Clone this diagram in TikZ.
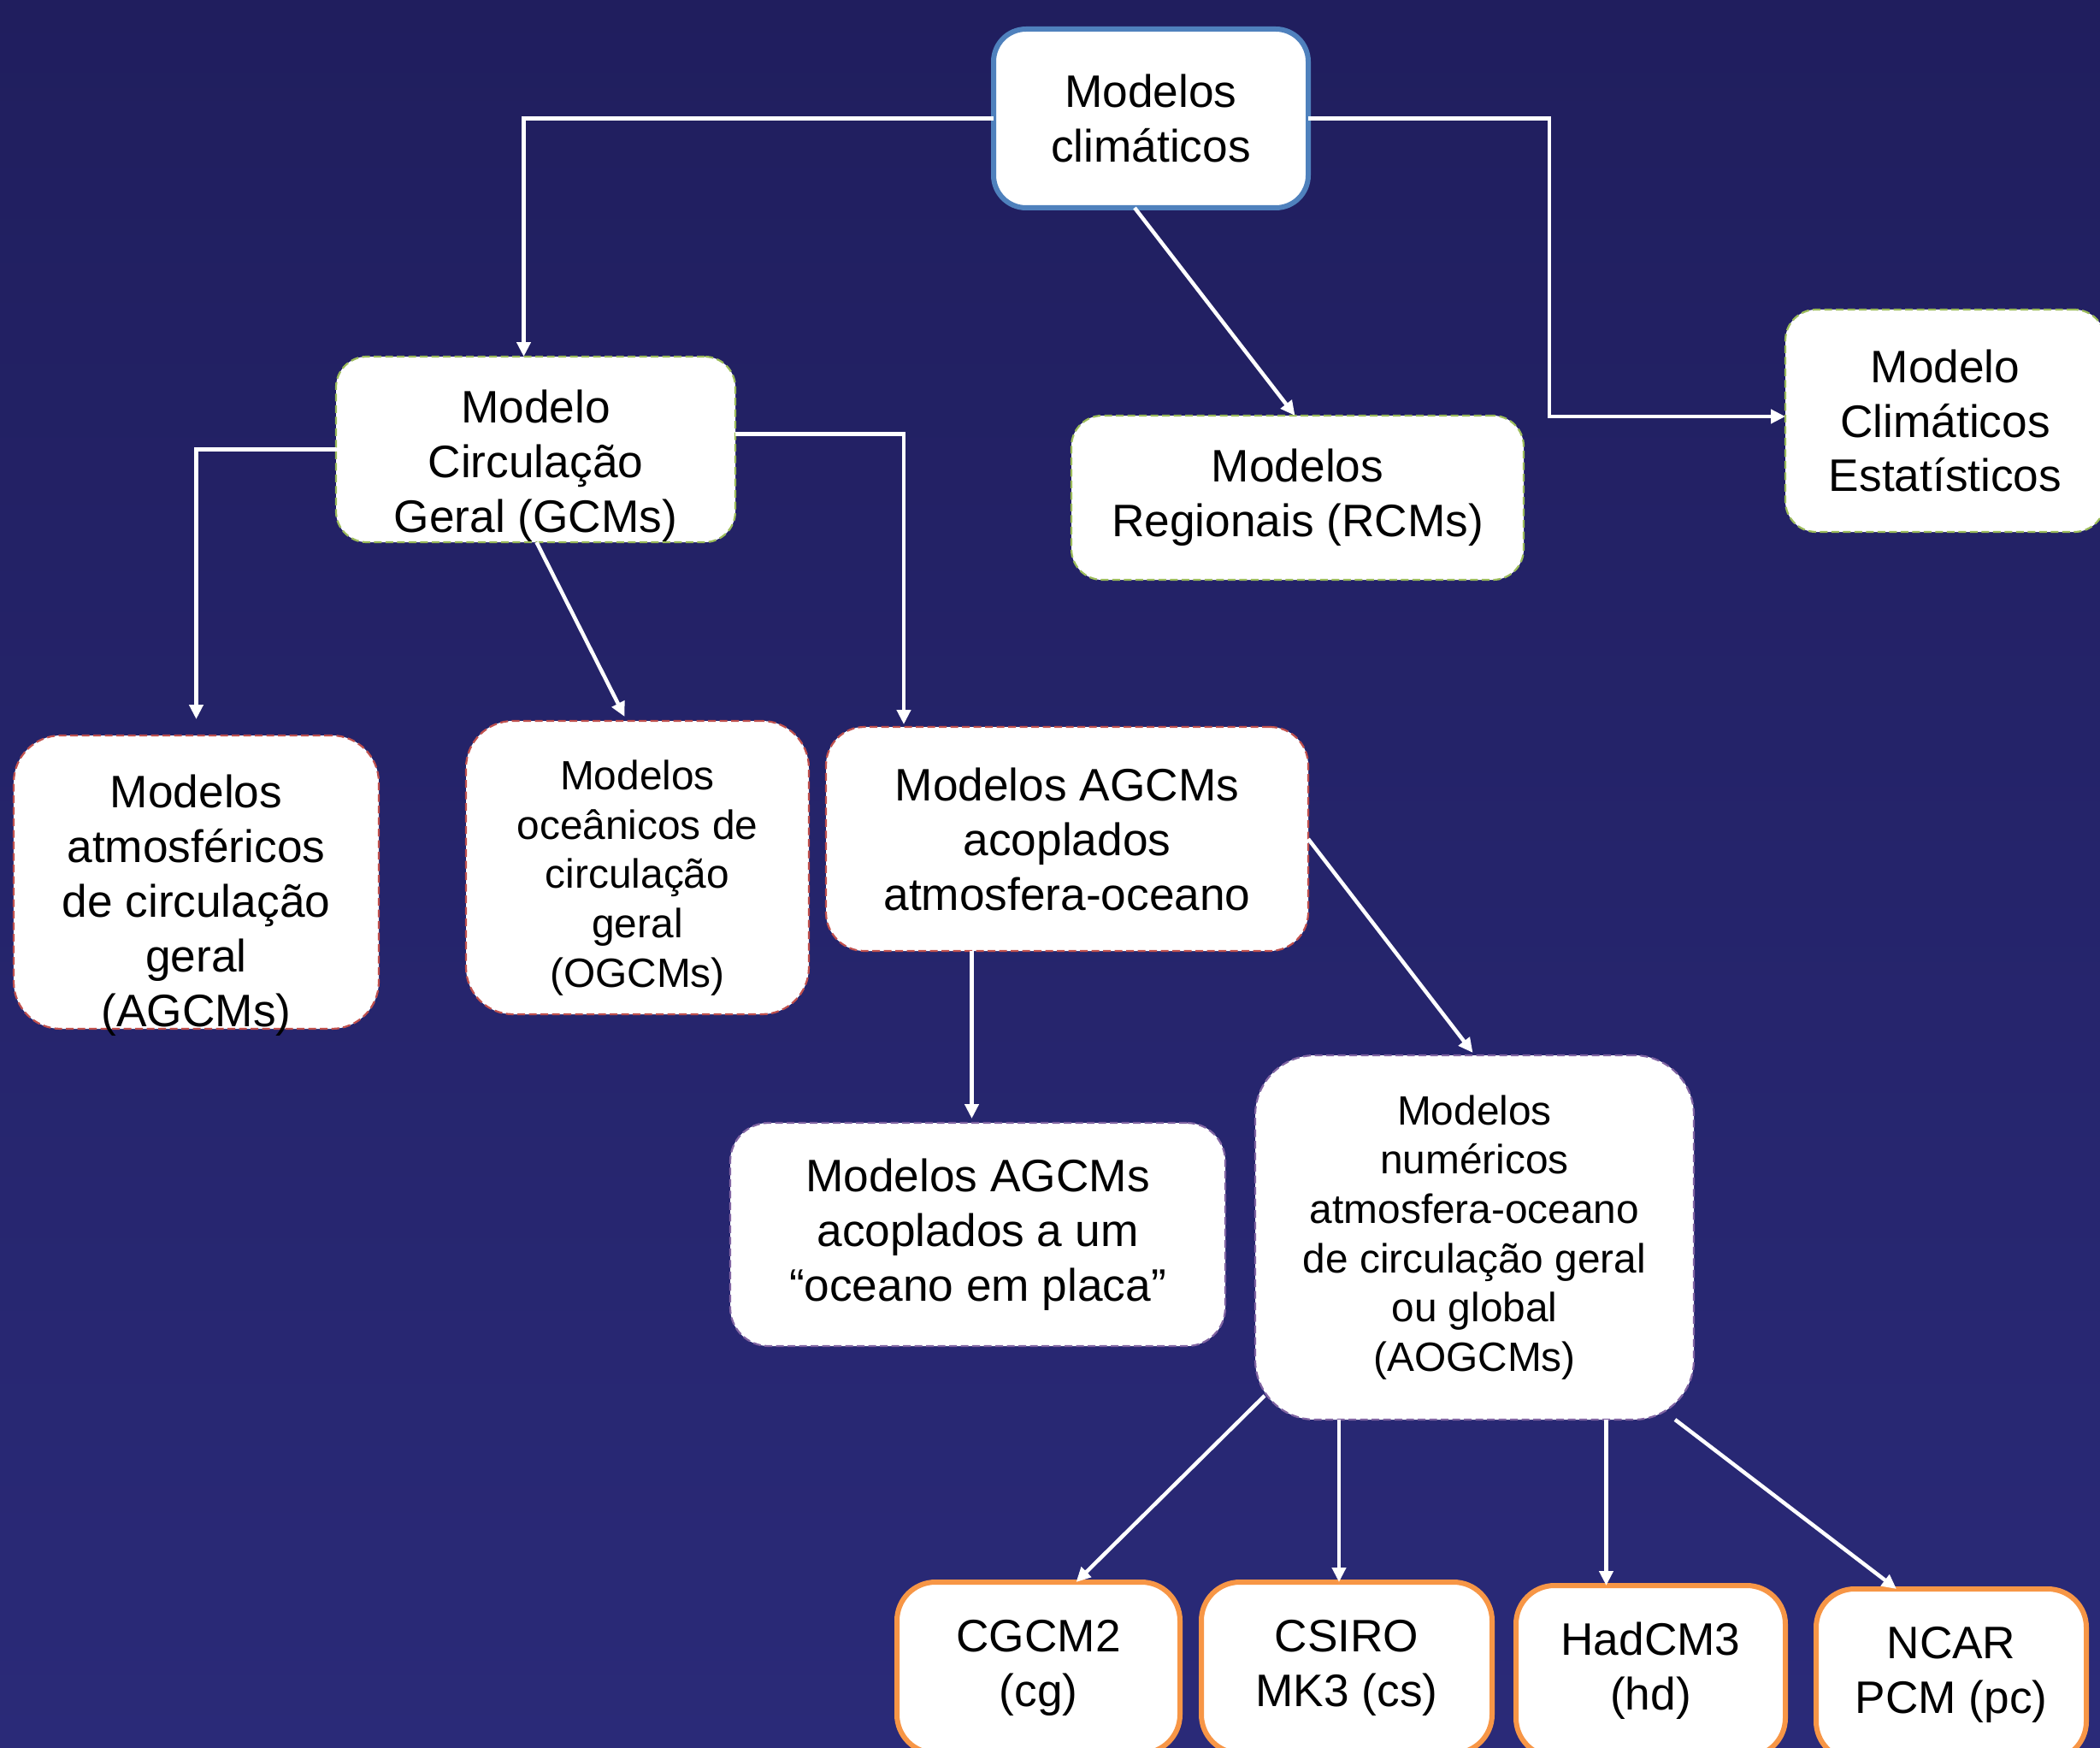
\documentclass[tikz,border=0pt]{standalone}
\usepackage{fontspec}
\setmainfont{Liberation Sans}
\usetikzlibrary{arrows.meta}

\definecolor{bgtop}{RGB}{32,30,94}
\definecolor{bgbot}{RGB}{42,42,120}
\definecolor{boxblue}{RGB}{79,129,189}
\definecolor{boxgreen}{RGB}{155,187,89}
\definecolor{boxred}{RGB}{192,80,77}
\definecolor{boxpurple}{RGB}{128,100,162}
\definecolor{boxorange}{RGB}{247,150,70}

\begin{document}
\begin{tikzpicture}[
	bigtext/.style={font=\fontsize{15.15}{18.2}\selectfont},
	smalltext/.style={font=\fontsize{13.6}{16.4}\selectfont},
	modelbox/.style={rectangle,fill=white,text=black,align=center,inner sep=0,outer sep=0,bigtext},
	boxlabel/.style={text=black,align=center,inner sep=0,bigtext},
	topbox/.style={modelbox,draw=boxblue,line width=0.06cm,rounded corners=0.38cm},
	greenbox/.style={modelbox,draw=boxgreen,line width=0.022cm,dash pattern=on 0.09cm off 0.045cm,rounded corners=0.36cm},
	redbox/.style={modelbox,draw=boxred,line width=0.022cm,dash pattern=on 0.09cm off 0.045cm,rounded corners=0.55cm},
	purplebox/.style={modelbox,draw=boxpurple,line width=0.022cm,dash pattern=on 0.09cm off 0.045cm,rounded corners=0.6cm},
	orangebox/.style={modelbox,draw=boxorange,line width=0.06cm,rounded corners=0.45cm},
	arr/.style={draw=white,line width=0.045cm,-{Triangle[length=0.17cm,width=0.16cm]}}
]
	\clip (0,0) rectangle (24.56,-20.44);
	\shade[top color=bgtop,bottom color=bgbot] (0,0) rectangle (24.56,-20.44);

	% nivel 1
	\node[topbox,minimum width=3.68cm,minimum height=2.09cm] (top) at (13.46,-1.385) {Modelos\\climáticos};

	% nivel 2
	\node[greenbox,minimum width=4.67cm,minimum height=2.17cm,
		label={[boxlabel,yshift=-0.19cm]center:Modelo\\Circulação\\Geral (GCMs)}] (gcm) at (6.265,-5.255) {};
	\node[greenbox,minimum width=5.29cm,minimum height=1.92cm] (rcm) at (15.175,-5.82) {Modelos\\Regionais (RCMs)};
	\node[greenbox,minimum width=3.74cm,minimum height=2.60cm] (est) at (22.75,-4.92) {Modelo\\Climáticos\\Estatísticos};

	% nivel 3
	\node[redbox,minimum width=4.27cm,minimum height=3.43cm,
		label={[boxlabel,yshift=-0.27cm]center:Modelos\\atmosféricos\\de circulação\\geral\\(AGCMs)}] (agcm) at (2.295,-10.315) {};
	\node[redbox,minimum width=4.01cm,minimum height=3.43cm,
		label={[boxlabel,smalltext,yshift=-0.12cm]center:Modelos\\oceânicos de\\circulação\\geral\\(OGCMs)}] (ogcm) at (7.455,-10.145) {};
	\node[redbox,minimum width=5.64cm,minimum height=2.62cm,rounded corners=0.45cm] (acop) at (12.48,-9.81) {Modelos AGCMs\\acoplados\\atmosfera-oceano};

	% nivel 4
	\node[purplebox,minimum width=5.79cm,minimum height=2.61cm,rounded corners=0.45cm] (placa) at (11.435,-14.435) {Modelos AGCMs\\acoplados a um\\“oceano em placa”};
	\node[purplebox,smalltext,minimum width=5.13cm,minimum height=4.26cm,rounded corners=0.7cm] (aogcm) at (17.245,-14.47) {Modelos\\numéricos\\atmosfera-oceano\\de circulação geral\\ou global\\(AOGCMs)};

	% nivel 5
	\node[orangebox,minimum width=3.31cm,minimum height=2.0cm] (cgcm) at (12.145,-19.5) {CGCM2\\(cg)};
	\node[orangebox,minimum width=3.40cm,minimum height=2.0cm] (csiro) at (15.75,-19.5) {CSIRO\\MK3 (cs)};
	\node[orangebox,minimum width=3.15cm,minimum height=2.0cm] (had) at (19.305,-19.54) {HadCM3\\(hd)};
	\node[orangebox,minimum width=3.16cm,minimum height=2.0cm] (ncar) at (22.82,-19.58) {NCAR\\PCM (pc)};

	% ligacoes
	\draw[arr] (top.west) -| ([xshift=-0.14cm]gcm.north);
	\draw[arr] (top.east) -- ++(2.82,0) |- ([yshift=0.05cm]est.west);
	\draw[arr] ([xshift=-0.19cm]top.south) -- ([xshift=-0.03cm]rcm.north);
	\draw[arr] (gcm.west) -| ([yshift=0.19cm]agcm.north);
	\draw[arr] ([xshift=0.01cm]gcm.south) -- ([xshift=-0.15cm,yshift=0.05cm]ogcm.north);
	\draw[arr] ([yshift=0.18cm]gcm.east) -| ([xshift=-1.91cm,yshift=0.03cm]acop.north);
	\draw[arr] ([xshift=-0.07cm]placa.north |- acop.south) -- ([xshift=-0.07cm,yshift=0.05cm]placa.north);
	\draw[arr] (acop.east) -- ([xshift=-0.02cm,yshift=0.03cm]aogcm.north);
	\draw[arr] ([shift={(0.11,0.28)}]aogcm.south west) -- ([xshift=0.44cm]cgcm.north);
	\draw[arr] ([xshift=-0.09cm]csiro.north |- aogcm.south) -- ([xshift=-0.09cm]csiro.north);
	\draw[arr] ([xshift=-0.52cm]had.north |- aogcm.south) -- ([xshift=-0.52cm]had.north);
	\draw[arr] ([xshift=-0.22cm]aogcm.south east) -- ([xshift=-0.64cm]ncar.north);
\end{tikzpicture}
\end{document}
